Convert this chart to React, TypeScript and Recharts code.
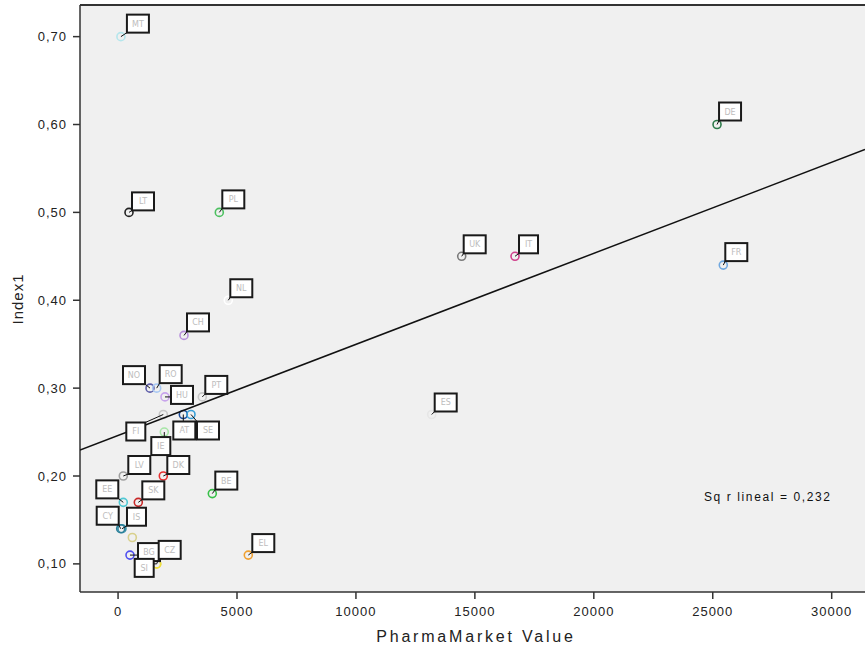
import {
  ScatterChart,
  Scatter,
  XAxis,
  YAxis,
  CartesianGrid,
  ReferenceLine,
} from "recharts";

// values
const countries = [
  "MT", "DE", "LT", "PL", "UK", "IT", "FR", "NL", "CH", "ES",
  "NO", "RO", "HU", "PT", "FI", "AT", "SE", "IE", "LV", "DK",
  "BE", "EE", "SK", "IS", "CY", "LU", "BG", "CZ", "SI", "EL",
];
const marketValue = [
  120, 25180, 460, 4256, 14446, 16687, 25443, 4634, 2772, 13185,
  1343, 1624, 1973, 3541, 1902, 2743, 3066, 1944, 220, 1902,
  3962, 220, 851, 165, 111, 599, 502, 1624, 1624, 5475,
];
const index1 = [
  0.70, 0.60, 0.50, 0.50, 0.45, 0.45, 0.44, 0.40, 0.36, 0.27,
  0.30, 0.30, 0.29, 0.29, 0.27, 0.27, 0.27, 0.25, 0.20, 0.20,
  0.18, 0.17, 0.17, 0.14, 0.14, 0.13, 0.11, 0.10, 0.10, 0.11,
];
const pointColors = [
  "#b5e6ec", "#2d7a4a", "#222222", "#4cc060", "#7a7a7a", "#d0408c", "#70a8e0", "#ffffff", "#b890dc", "#e6e6e6",
  "#5c5ca8", "#a8c8f4", "#c8a4ec", "#c8c8c8", "#c8c8c8", "#1e4f9c", "#3aa0d8", "#a6e6a6", "#a0a0a0", "#e83030",
  "#38c048", "#50c8d4", "#c82828", "#3a90a8", "#2a7f98", "#d8d08c", "#5050f0", "#e8d840", "#f0e040", "#f0a030",
];
const xTicks = [0, 5000, 10000, 15000, 20000, 25000, 30000];
const yTicks = [0.1, 0.2, 0.3, 0.4, 0.5, 0.6, 0.7];
const xDomain = [-1600, 31400];
const yDomain = [0.068, 0.736];
const fitIntercept = 0.2462;
const fitSlope = 0.00001036;
const rSquaredText = "Sq r lineal = 0,232";

// where each label box sits relative to its point (box left/top offset, px)
const labelOffset: Record<string, [number, number] | null> = {
  MT: [6, -22], DE: [2, -22], LT: [3, -20], PL: [3, -22], UK: [2, -21],
  IT: [4, -21], FR: [2, -22], NL: [2, -21], CH: [3, -22], ES: [3, -21],
  NO: [-27, -22], RO: [3, -23], HU: [6, -11], PT: [3, -21], FI: [-37, 8],
  AT: [-10, 7], SE: [6, 7], IE: [-13, 5], LV: [5, -20], DK: [4, -20],
  BE: [3, -22], EE: [-27, -22], SK: [4, -21], IS: [5, -21], CY: [-24, -22],
  LU: null, BG: [8, -12], CZ: [2, -23], SI: [-22, -5], EL: [4, -21],
};

const points = countries.map((code, i) => ({
  code,
  x: marketValue[i],
  y: index1[i],
  color: pointColors[i],
}));

const fitLine = xDomain.map((x) => ({ x, y: fitIntercept + fitSlope * x }));

const font = "'Liberation Sans', Arial, sans-serif";

const boxWidth = (code: string) =>
  6 + code.split("").reduce((s, ch) => s + (ch === "I" ? 5 : 8), 0);

const Dot = (props: any) => {
  const { cx, cy, payload } = props;
  return (
    <circle cx={cx} cy={cy} r={4} fill="none" stroke={payload.color} strokeWidth={1.6} />
  );
};

const Tag = (props: any) => {
  const { cx, cy, payload } = props;
  const off = labelOffset[payload.code];
  if (!off) return <g />;
  const w = boxWidth(payload.code);
  const h = 18;
  const bx = cx + off[0];
  const by = cy + off[1];
  const lx = Math.min(Math.max(cx, bx), bx + w);
  const ly = Math.min(Math.max(cy, by), by + h);
  return (
    <g>
      <line x1={cx} y1={cy} x2={lx} y2={ly} stroke="#111" strokeWidth={1} />
      <rect x={bx} y={by} width={w} height={h} fill="#fff" stroke="#1a1a1a" strokeWidth={2} />
      <text
        x={bx + w / 2}
        y={by + h / 2 + 3}
        textAnchor="middle"
        fontSize={8}
        fontFamily="'DejaVu Sans', sans-serif"
        fill="#bdbdbd"
      >
        {payload.code}
      </text>
    </g>
  );
};

const tickStyle = { fill: "#222", fontSize: 13, fontFamily: font, letterSpacing: 1 };

export default function App() {
  return (
    <div style={{ position: "absolute", left: 0, top: 0, width: 865, height: 651, background: "#fff" }}>
      <ScatterChart width={865} height={651} margin={{ top: 5, right: 0, bottom: 0, left: 0 }}>
        <CartesianGrid fill="#f0f0f0" horizontal={false} vertical={false} />
        <XAxis
          type="number"
          dataKey="x"
          domain={xDomain}
          allowDataOverflow
          ticks={xTicks}
          height={59}
          tickSize={7}
          tickMargin={8}
          tick={tickStyle}
          axisLine={{ stroke: "#333", strokeWidth: 1.5 }}
          tickLine={{ stroke: "#333", strokeWidth: 1.5 }}
          label={{
            content: () => (
              <text x={476} y={642} textAnchor="middle" fontSize={16} fontFamily={font} letterSpacing={2.8} fill="#222">
                PharmaMarket Value
              </text>
            ),
          }}
        />
        <YAxis
          type="number"
          dataKey="y"
          domain={yDomain}
          allowDataOverflow
          ticks={yTicks}
          width={80}
          tickSize={7}
          tickMargin={6}
          tick={tickStyle}
          tickFormatter={(v: number) => v.toFixed(2).replace(".", ",")}
          axisLine={{ stroke: "#333", strokeWidth: 1.5 }}
          tickLine={{ stroke: "#333", strokeWidth: 1.5 }}
          label={{
            content: () => (
              <text
                x={23}
                y={299}
                transform="rotate(-90 23 299)"
                textAnchor="middle"
                fontSize={15}
                fontFamily={font}
                letterSpacing={1}
                fill="#222"
              >
                Index1
              </text>
            ),
          }}
        />
        <ReferenceLine y={yDomain[1]} stroke="#333" strokeWidth={2} />
        <Scatter data={points} shape={Dot} isAnimationActive={false} />
        <Scatter
          data={fitLine}
          line={{ stroke: "#111", strokeWidth: 1.5 }}
          shape={() => <g />}
          isAnimationActive={false}
        />
        <Scatter data={points} shape={Tag} isAnimationActive={false} />
      </ScatterChart>
      <div
        style={{
          position: "absolute",
          left: 704,
          top: 490,
          fontSize: 12,
          fontFamily: font,
          letterSpacing: 1.6,
          color: "#111",
          whiteSpace: "nowrap",
        }}
      >
        {rSquaredText}
      </div>
    </div>
  );
}
